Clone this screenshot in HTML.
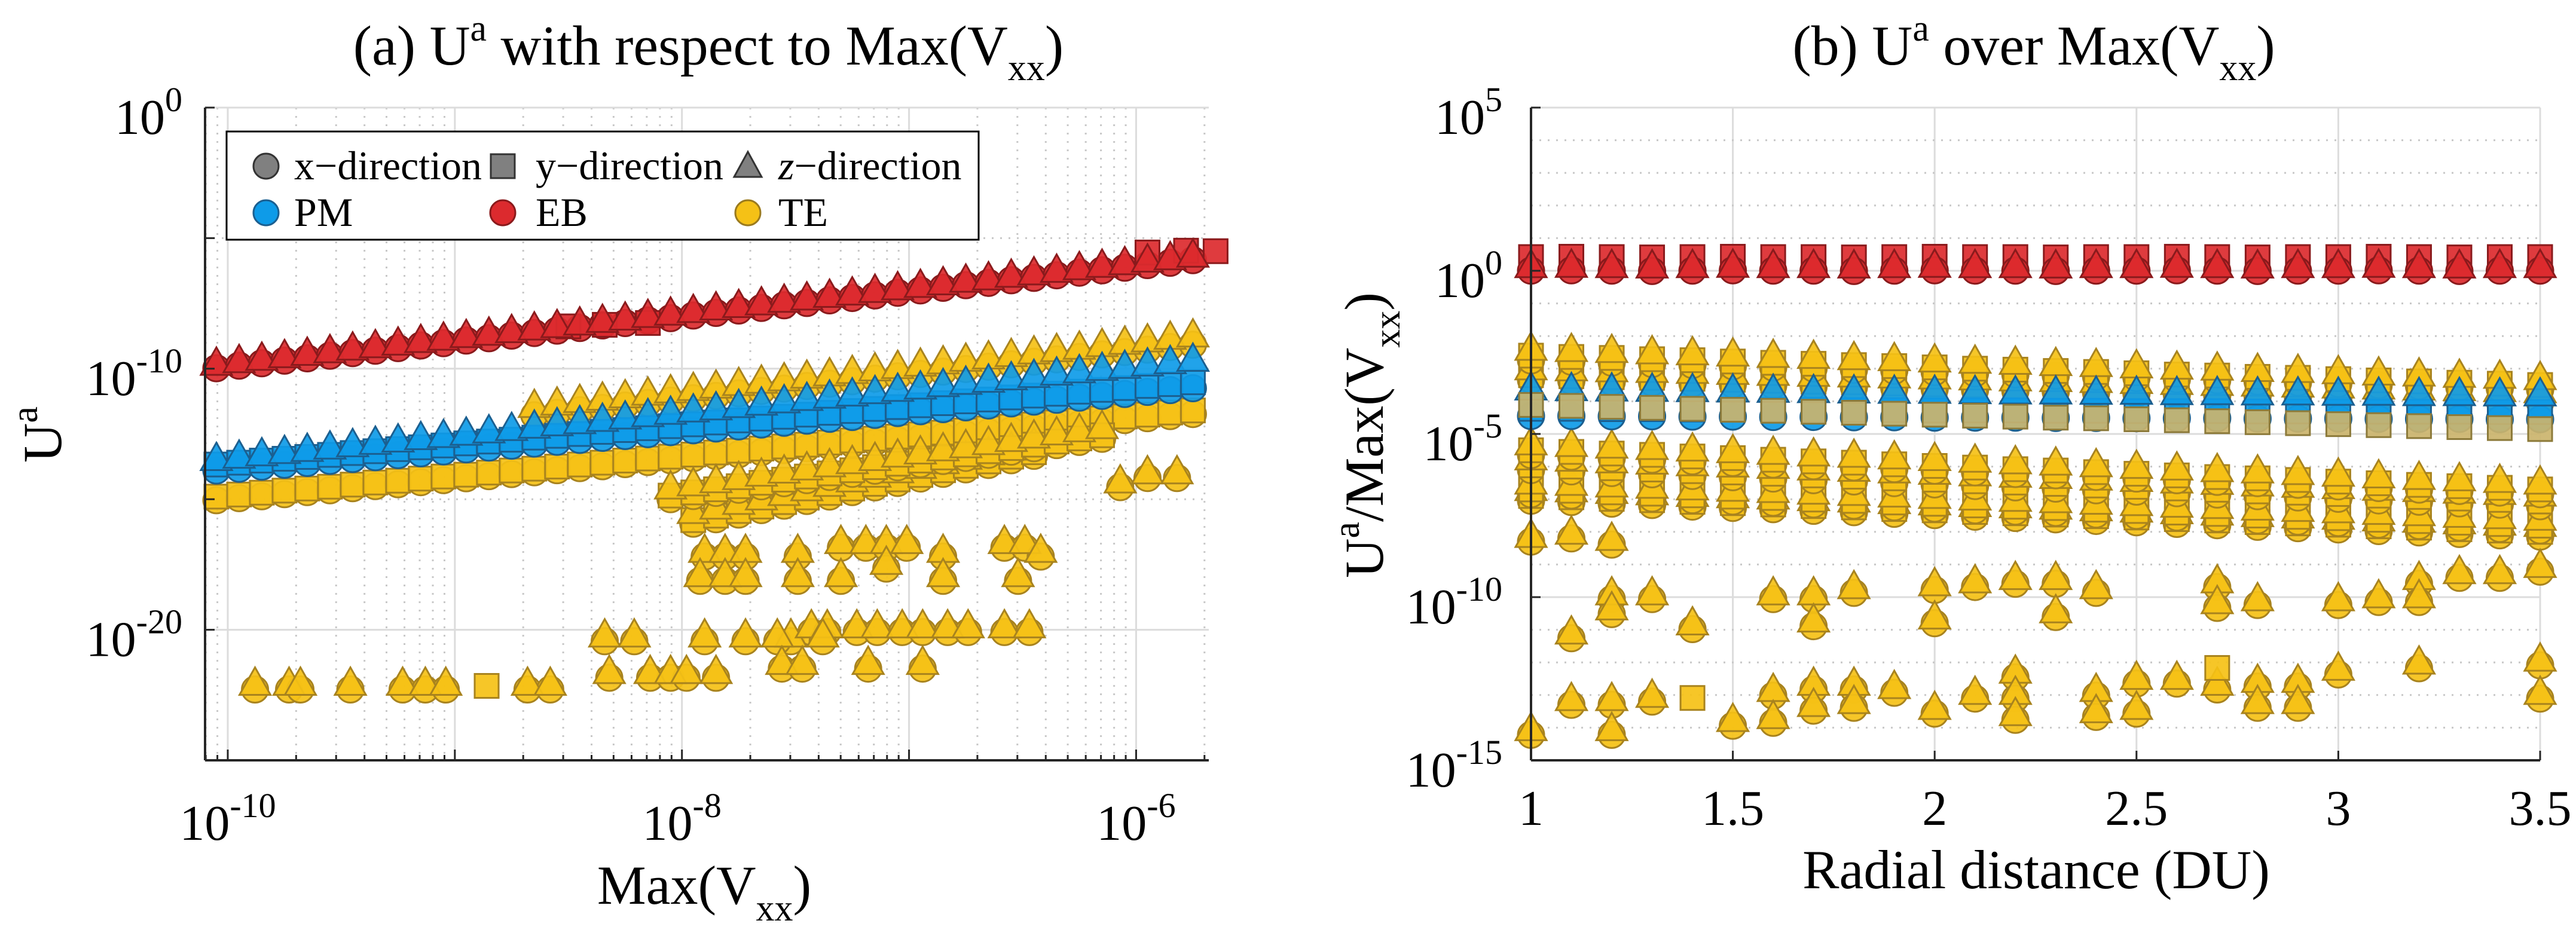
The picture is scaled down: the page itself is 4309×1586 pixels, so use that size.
<!DOCTYPE html>
<html><head><meta charset="utf-8"><style>
html,body{margin:0;padding:0;background:#fff;}
svg{display:block;font-family:"Liberation Serif",serif;}
</style></head><body>
<svg id="fig" xmlns="http://www.w3.org/2000/svg" width="4309" height="1586" viewBox="0 0 4309 1586">
<rect width="4309" height="1586" fill="#fff"/>
<g id="gridA"></g>
<g id="gridB"></g>
<g id="marksA"></g>
<g id="marksB"></g>
<g id="axesA"></g>
<g id="axesB"></g>

<text x="1185" y="108" font-size="94" text-anchor="middle">(a) U<tspan font-size="62" dy="-40">a</tspan><tspan dy="40">  with respect to Max(V</tspan><tspan font-size="62" dy="26">xx</tspan><tspan dy="-26">)</tspan></text>
<text x="3402" y="108" font-size="94" text-anchor="middle">(b) U<tspan font-size="62" dy="-40">a</tspan><tspan dy="40"> over Max(V</tspan><tspan font-size="62" dy="26">xx</tspan><tspan dy="-26">)</tspan></text>
<text x="1178" y="1512" font-size="92" text-anchor="middle">Max(V<tspan font-size="62" dy="28">xx</tspan><tspan dy="-28">)</tspan></text>
<text x="3406" y="1486" font-size="92" text-anchor="middle">Radial distance (DU)</text>
<text transform="translate(102,727) rotate(-90)" font-size="92" text-anchor="middle">U<tspan font-size="62" dy="-40">a</tspan></text>
<text transform="translate(2313,728) rotate(-90)" font-size="92" text-anchor="middle">U<tspan font-size="62" dy="-40">a</tspan><tspan dy="40">/Max(V</tspan><tspan font-size="62" dy="28">xx</tspan><tspan dy="-28">)</tspan></text>

<g>
<rect x="379" y="220" width="1258" height="181" fill="#fff" stroke="#000" stroke-width="3"/>
<circle cx="445" cy="278" r="21" fill="#808080" stroke="#333" stroke-width="3"/>
<text x="492" y="300" font-size="68">x−direction</text>
<rect x="821" y="258" width="40" height="40" fill="#808080" stroke="#333" stroke-width="3"/>
<text x="896" y="300" font-size="68">y−direction</text>
<polygon points="1251,254 1274,296 1228,296" fill="#808080" stroke="#333" stroke-width="3"/>
<text x="1302" y="300" font-size="68"><tspan font-style="italic">z</tspan>−direction</text>
<circle cx="445" cy="356" r="21" fill="#0e9be8" stroke="#1b5f90" stroke-width="3"/>
<text x="492" y="378" font-size="68">PM</text>
<circle cx="841" cy="356" r="21" fill="#dc2a2e" stroke="#8a1a1c" stroke-width="3"/>
<text x="896" y="378" font-size="68">EB</text>
<circle cx="1251" cy="356" r="21" fill="#f5c116" stroke="#9a7a1e" stroke-width="3"/>
<text x="1302" y="378" font-size="68">TE</text>
</g>
</svg>
<script>
// ---------- Left panel data (log10 values) ----------
const lx = [-10.05,-9.95,-9.85,-9.75,-9.65,-9.55,-9.45,-9.35,-9.25,-9.15,-9.05,-8.95,-8.85,-8.75,-8.65,-8.55,-8.45,-8.35,-8.25,-8.15,-8.05,-7.95,-7.85,-7.75,-7.65,-7.55,-7.45,-7.35,-7.25,-7.15,-7.05,-6.95,-6.85,-6.75,-6.65,-6.55,-6.45,-6.35,-6.25,-6.15,-6.05,-5.95,-5.85,-5.75];
const ebT = [-9.80,-9.70,-9.61,-9.51,-9.42,-9.32,-9.22,-9.13,-9.03,-8.93,-8.84,-8.74,-8.65,-8.55,-8.45,-8.36,-8.26,-8.16,-8.07,-7.97,-7.88,-7.78,-7.68,-7.59,-7.49,-7.39,-7.30,-7.20,-7.11,-7.01,-6.91,-6.82,-6.72,-6.62,-6.53,-6.43,-6.34,-6.24,-6.14,-6.05,-5.95,-5.85,-5.76,-5.66];
const ebSx = [-8.50,-8.34,-8.15,-5.95,-5.78,-5.65];
const ebS = [-8.38,-8.32,-8.25,-5.55,-5.48,-5.50];
const pmC = [-13.90,-13.83,-13.75,-13.68,-13.61,-13.53,-13.46,-13.39,-13.31,-13.24,-13.17,-13.09,-13.02,-12.95,-12.87,-12.80,-12.73,-12.65,-12.58,-12.51,-12.43,-12.36,-12.29,-12.21,-12.14,-12.07,-11.99,-11.92,-11.85,-11.77,-11.70,-11.63,-11.55,-11.48,-11.41,-11.33,-11.26,-11.19,-11.11,-11.04,-10.97,-10.89,-10.82,-10.75];
const pmT = [-13.45,-13.36,-13.27,-13.18,-13.10,-13.01,-12.92,-12.83,-12.74,-12.65,-12.57,-12.48,-12.39,-12.30,-12.21,-12.12,-12.04,-11.95,-11.86,-11.77,-11.68,-11.59,-11.51,-11.42,-11.33,-11.24,-11.15,-11.06,-10.98,-10.89,-10.80,-10.71,-10.62,-10.53,-10.45,-10.36,-10.27,-10.18,-10.09,-10.00,-9.92,-9.83,-9.74,-9.65];
const teS = [-14.90,-14.82,-14.75,-14.67,-14.59,-14.52,-14.44,-14.36,-14.29,-14.21,-14.13,-14.06,-13.98,-13.90,-13.83,-13.75,-13.67,-13.60,-13.52,-13.44,-13.37,-13.29,-13.21,-13.14,-13.06,-12.98,-12.91,-12.83,-12.75,-12.68,-12.60,-12.52,-12.45,-12.37,-12.29,-12.22,-12.14,-12.06,-11.99,-11.91,-11.83,-11.76,-11.68,-11.60];
const teTx = [-8.65,-8.55,-8.45,-8.35,-8.25,-8.15,-8.05,-7.95,-7.85,-7.75,-7.65,-7.55,-7.45,-7.35,-7.25,-7.15,-7.05,-6.95,-6.85,-6.75,-6.65,-6.55,-6.45,-6.35,-6.25,-6.15,-6.05,-5.95,-5.85,-5.75];
const teT = [-11.60,-11.51,-11.41,-11.32,-11.23,-11.13,-11.04,-10.95,-10.86,-10.76,-10.67,-10.58,-10.48,-10.39,-10.30,-10.20,-10.11,-10.02,-9.93,-9.83,-9.74,-9.65,-9.55,-9.46,-9.37,-9.27,-9.18,-9.09,-8.99,-8.90];
const bandAx = [-8.05,-7.95,-7.85,-7.75,-7.65,-7.55,-7.45,-7.35,-7.25,-7.15,-7.05,-6.95,-6.85,-6.75,-6.65,-6.55,-6.45,-6.35,-6.25,-6.15];
const bandA = [-14.86,-14.74,-14.62,-14.50,-14.37,-14.25,-14.13,-14.01,-13.89,-13.77,-13.64,-13.52,-13.40,-13.28,-13.16,-13.04,-12.91,-12.79,-12.67,-12.55];
const bandBx = [-7.95,-7.85,-7.75,-7.65,-7.55,-7.45,-7.35,-7.25,-7.15,-7.05,-6.95,-6.85,-6.75,-6.65,-6.55,-6.45];
const bandB = [-15.80,-15.63,-15.45,-15.28,-15.11,-14.93,-14.76,-14.59,-14.41,-14.24,-14.07,-13.89,-13.72,-13.55,-13.37,-13.20];
const teScX = [-6.07,-5.95,-5.82,-7.90,-7.81,-7.72,-7.49,-7.30,-7.19,-7.10,-7.01,-6.85,-6.58,-6.49,-6.42,-7.92,-7.81,-7.72,-7.49,-7.30,-7.10,-6.85,-6.52,-7.23,-7.14,-7.03,-6.94,-6.83,-6.74,-6.58,-6.47,-7.52,-7.43,-7.36,-8.34,-8.21,-7.90,-7.72,-7.58,-7.38,-7.56,-7.47,-7.18,-6.94,-8.32,-8.14,-8.05,-7.98,-7.85,-9.88,-9.73,-9.68,-9.46,-9.23,-9.13,-9.04,-8.68,-8.58];
const teScY = [-14.40,-14.05,-14.05,-17.06,-17.06,-17.06,-17.06,-16.72,-16.72,-16.72,-16.72,-17.06,-16.72,-16.72,-17.06,-17.99,-17.99,-17.99,-17.99,-17.99,-17.52,-17.99,-17.99,-19.95,-19.95,-19.95,-19.95,-19.95,-19.95,-19.95,-19.95,-20.30,-19.95,-19.95,-20.30,-20.30,-20.30,-20.30,-20.30,-20.30,-21.35,-21.35,-21.35,-21.35,-21.70,-21.70,-21.70,-21.70,-21.70,-22.15,-22.15,-22.15,-22.15,-22.15,-22.15,-22.15,-22.15,-22.15];
const teSqX = [-8.86];
const teSqY = [-22.15];
const leftXTicks = [-10,-8,-6];
const leftYTicks = [0,-10,-20];

// ---------- Right panel data ----------
const rx = [1,1.1,1.2,1.3,1.4,1.5,1.6,1.7,1.8,1.9,2,2.1,2.2,2.3,2.4,2.5,2.6,2.7,2.8,2.9,3,3.1,3.2,3.3,3.4,3.5];
const redT = [0.15,0.16,0.15,0.14,0.15,0.16,0.15,0.15,0.14,0.15,0.16,0.15,0.15,0.14,0.15,0.15,0.16,0.15,0.14,0.15,0.15,0.16,0.15,0.14,0.15,0.15];
const redS = [0.42,0.43,0.42,0.41,0.42,0.43,0.42,0.42,0.41,0.42,0.43,0.42,0.42,0.41,0.42,0.42,0.43,0.42,0.41,0.42,0.42,0.43,0.42,0.41,0.42,0.42];
const teTop1 = [-2.60,-2.64,-2.67,-2.71,-2.74,-2.78,-2.82,-2.85,-2.89,-2.92,-2.96,-3.00,-3.03,-3.07,-3.10,-3.14,-3.18,-3.21,-3.25,-3.28,-3.32,-3.36,-3.39,-3.43,-3.46,-3.50];
const teTop2 = [-3.20,-3.23,-3.26,-3.28,-3.31,-3.34,-3.37,-3.40,-3.42,-3.45,-3.48,-3.51,-3.54,-3.56,-3.59,-3.62,-3.65,-3.68,-3.70,-3.73,-3.76,-3.79,-3.82,-3.84,-3.87,-3.90];
const pmTr = [-3.60,-3.62,-3.63,-3.64,-3.65,-3.66,-3.67,-3.68,-3.69,-3.70,-3.70,-3.71,-3.72,-3.72,-3.73,-3.73,-3.74,-3.74,-3.75,-3.75,-3.76,-3.76,-3.77,-3.77,-3.78,-3.78];
const pmCr = [-4.45,-4.45,-4.46,-4.46,-4.47,-4.47,-4.48,-4.48,-4.49,-4.49,-4.50,-4.50,-4.50,-4.51,-4.51,-4.52,-4.52,-4.52,-4.53,-4.53,-4.53,-4.54,-4.54,-4.54,-4.55,-4.55];
const teSqR = [-4.11,-4.14,-4.17,-4.20,-4.23,-4.26,-4.29,-4.32,-4.35,-4.38,-4.41,-4.44,-4.47,-4.50,-4.52,-4.55,-4.58,-4.61,-4.64,-4.67,-4.70,-4.73,-4.76,-4.79,-4.82,-4.85];
const te2a = [-5.50,-5.55,-5.60,-5.64,-5.69,-5.74,-5.79,-5.84,-5.88,-5.93,-5.98,-6.03,-6.08,-6.12,-6.17,-6.22,-6.27,-6.32,-6.36,-6.41,-6.46,-6.51,-6.56,-6.60,-6.65,-6.70];
const te2b = [-5.96,-6.00,-6.05,-6.09,-6.14,-6.18,-6.22,-6.27,-6.31,-6.36,-6.40,-6.45,-6.49,-6.53,-6.58,-6.62,-6.67,-6.71,-6.76,-6.80,-6.84,-6.89,-6.93,-6.98,-7.02,-7.07];
const te2c = [-6.70,-6.74,-6.79,-6.83,-6.88,-6.92,-6.96,-7.01,-7.05,-7.10,-7.14,-7.19,-7.23,-7.27,-7.32,-7.36,-7.41,-7.45,-7.50,-7.54,-7.58,-7.63,-7.67,-7.72,-7.76,-7.81];
const te2d = [-6.90,-6.94,-6.99,-7.03,-7.08,-7.12,-7.16,-7.21,-7.25,-7.30,-7.34,-7.39,-7.43,-7.47,-7.52,-7.56,-7.61,-7.65,-7.70,-7.74,-7.78,-7.83,-7.87,-7.92,-7.96,-8.00];
const rScX = [1.0,1.1,1.2,1.2,1.2,1.3,1.4,1.1,1.6,1.7,1.7,1.8,2.0,2.0,2.1,2.2,2.3,2.3,2.4,2.7,2.7,2.8,3.0,3.1,3.2,3.2,3.3,3.4,3.5,
  1.0,1.1,1.2,1.2,1.3,1.5,1.6,1.6,1.7,1.7,1.8,1.8,1.9,2.0,2.1,2.2,2.2,2.2,2.4,2.4,2.5,2.5,2.6,2.7,2.8,2.8,2.9,2.9,3.0,3.2,3.5,3.5];
const rScY = [-8.19,-8.09,-8.28,-9.95,-10.41,-9.95,-10.87,-11.15,-9.95,-9.95,-10.78,-9.76,-9.67,-10.69,-9.58,-9.48,-9.48,-10.50,-9.76,-9.58,-10.22,-10.13,-10.13,-10.04,-9.48,-10.04,-9.30,-9.30,-9.11,
  -14.11,-13.19,-13.19,-14.11,-13.09,-13.83,-12.91,-13.74,-12.72,-13.37,-12.72,-13.28,-12.82,-13.46,-13.00,-12.35,-13.00,-13.65,-12.91,-13.56,-12.54,-13.46,-12.54,-12.72,-12.63,-13.28,-12.63,-13.28,-12.26,-12.07,-11.98,-13.00];
const rSqX = [1.4,2.7];
const rSqY = [-13.09,-12.17];
const rightXTicks = [1,1.5,2,2.5,3,3.5];
const rightXLabels = ["1","1.5","2","2.5","3","3.5"];
const rightYTicks = [5,0,-5,-10,-15];

// ---------- Axis functions ----------
const A = {l:343, r:2022, t:180, b:1272, x0:-10.1, x1:-5.68, y0:-25, y1:0};
const B = {l:2561, r:4249, t:180, b:1272, x0:1, x1:3.5, y0:-15, y1:5};
const axA = v => A.l + (v - A.x0) / (A.x1 - A.x0) * (A.r - A.l);
const ayA = v => A.b - (v - A.y0) / (A.y1 - A.y0) * (A.b - A.t);
const axB = v => B.l + (v - B.x0) / (B.x1 - B.x0) * (B.r - B.l);
const ayB = v => B.b - (v - B.y0) / (B.y1 - B.y0) * (B.b - B.t);

const NS = "http://www.w3.org/2000/svg";
const COL = {
  te:["#f5c116","#a8831e"], pm:["#0e9be8","#1b5f90"],
  eb:["#dc2a2e","#8a1a1c"], tan:["#cbb46c","#8c7a3a"]
};
function mk(tag, attrs, parent){
  const e = document.createElementNS(NS, tag);
  for (const k in attrs) e.setAttribute(k, attrs[k]);
  parent.appendChild(e);
  return e;
}
function marker(shape, cx, cy, c, parent, name){
  let e;
  if (shape === "c") e = mk("circle", {cx:cx, cy:cy, r:22}, parent);
  else if (shape === "s") e = mk("rect", {x:cx-20, y:cy-20, width:40, height:40}, parent);
  else e = mk("polygon", {points:`${cx},${cy-27} ${cx+26},${cy+19} ${cx-26},${cy+19}`}, parent);
  e.setAttribute("fill", c[0]);
  e.setAttribute("stroke", c[1]);
  e.setAttribute("stroke-width", "3");
  e.setAttribute("fill-opacity", "0.92");
  
  
  return e;
}
function series(xs, ys, shape, c, fx, fy, parent, name, dy){
  for (let i = 0; i < xs.length && i < ys.length; i++) marker(shape, fx(xs[i]), fy(ys[i]) + (dy||0), c, parent, name);
}
function line(x1,y1,x2,y2,stroke,w,dash,parent,name){
  const e = mk("line",{x1:x1,y1:y1,x2:x2,y2:y2,stroke:stroke,"stroke-width":w},parent);
  if (dash) e.setAttribute("stroke-dasharray", dash);
  
  
}
function tickLabel(x, y, exp, anchor, parent, name){
  const t = mk("text",{x:x,y:y,"font-size":84,"text-anchor":anchor},parent);
  
  
  t.appendChild(document.createTextNode("10"));
  const s = mk("tspan",{"font-size":58,dy:-38},t);
  s.textContent = String(exp);
}

// ---------- Left grid ----------
const gA = document.getElementById("gridA");
for (let d = -11; d <= -5; d++){
  for (let m = 1; m <= 9; m++){
    const v = d + Math.log10(m);
    if (v < A.x0 || v > A.x1) continue;
    const X = axA(v);
    if (m === 1) line(X,A.t,X,A.b,"#dcdcdc",3,null,gA,"x-major-gridline");
    else line(X,A.t,X,A.b,"#c8c8c8",3,"3 11",gA,"x-minor-gridline");
  }
}
for (let v = 0; v >= -25; v -= 5){
  const Y = ayA(v);
  if (v % 10 === 0) line(A.l,Y,A.r,Y,"#dcdcdc",3,null,gA,"y-major-gridline");
  else line(A.l,Y,A.r,Y,"#c8c8c8",3,"3 11",gA,"y-minor-gridline");
}
// ---------- Right grid ----------
const gB = document.getElementById("gridB");
for (const v of rightXTicks){ const X = axB(v); line(X,B.t,X,B.b,"#dcdcdc",3,null,gB,"x-gridline"); }
for (let v = 5; v >= -15; v--){
  const Y = ayB(v);
  if (v % 5 === 0) line(B.l,Y,B.r,Y,"#dcdcdc",3,null,gB,"y-major-gridline");
  else line(B.l,Y,B.r,Y,"#c8c8c8",3,"3 11",gB,"y-minor-gridline");
}

// ---------- Left marks ----------
const mA = document.getElementById("marksA");
series(lx, teS, "c", COL.te, axA, ayA, mA, "te-x-point", 6);
series(lx, teS, "s", COL.te, axA, ayA, mA, "te-y-point");
series(bandBx, bandB, "c", COL.te, axA, ayA, mA, "te-x-point", 6);
series(bandBx, bandB, "s", COL.te, axA, ayA, mA, "te-y-point");
series(bandBx, bandB, "t", COL.te, axA, ayA, mA, "te-z-point", -14);
series(bandAx, bandA, "c", COL.te, axA, ayA, mA, "te-x-point", 6);
series(bandAx, bandA, "s", COL.te, axA, ayA, mA, "te-y-point");
series(bandAx, bandA, "t", COL.te, axA, ayA, mA, "te-z-point", -14);
series(teScX, teScY, "c", COL.te, axA, ayA, mA, "te-x-point", 6);
series(teScX, teScY, "t", COL.te, axA, ayA, mA, "te-z-point", -4);
series(teSqX, teSqY, "s", COL.te, axA, ayA, mA, "te-y-point");
series(teTx, teT, "c", COL.te, axA, ayA, mA, "te-x-point", 8);
series(teTx, teT, "t", COL.te, axA, ayA, mA, "te-z-point", -8);
series(lx, pmC, "c", COL.pm, axA, ayA, mA, "pm-x-point");
series(lx, pmC, "s", COL.pm, axA, ayA, mA, "pm-y-point", -10);
series(lx, pmT, "t", COL.pm, axA, ayA, mA, "pm-z-point");
series(lx, ebT, "c", COL.eb, axA, ayA, mA, "eb-x-point", 8);
series(ebSx, ebS, "s", COL.eb, axA, ayA, mA, "eb-y-point");
series(lx, ebT, "t", COL.eb, axA, ayA, mA, "eb-z-point");

// ---------- Right marks ----------
const mB = document.getElementById("marksB");
[te2d, te2c, te2b, te2a].forEach(arr => {
  series(rx, arr, "c", COL.te, axB, ayB, mB, "te-x-point", 8);
  series(rx, arr, "s", COL.te, axB, ayB, mB, "te-y-point");
  series(rx, arr, "t", COL.te, axB, ayB, mB, "te-z-point", -12);
});
series(rScX, rScY, "c", COL.te, axB, ayB, mB, "te-x-point", 6);
series(rScX, rScY, "t", COL.te, axB, ayB, mB, "te-z-point", -4);
series(rSqX, rSqY, "s", COL.te, axB, ayB, mB, "te-y-point");
[teTop2, teTop1].forEach(arr => {
  series(rx, arr, "c", COL.te, axB, ayB, mB, "te-x-point", 8);
  series(rx, arr, "s", COL.te, axB, ayB, mB, "te-y-point");
  series(rx, arr, "t", COL.te, axB, ayB, mB, "te-z-point", -12);
});
series(rx, pmCr, "c", COL.pm, axB, ayB, mB, "pm-x-point");
series(rx, pmCr, "s", COL.pm, axB, ayB, mB, "pm-y-point", -12);
series(rx, pmTr, "t", COL.pm, axB, ayB, mB, "pm-z-point");
series(rx, teSqR, "s", COL.tan, axB, ayB, mB, "te-y-point");
series(rx, redS, "s", COL.eb, axB, ayB, mB, "eb-y-point");
series(rx, redT, "c", COL.eb, axB, ayB, mB, "eb-x-point", 8);
series(rx, redT, "t", COL.eb, axB, ayB, mB, "eb-z-point");

// ---------- Axes ----------
const xA = document.getElementById("axesA");
line(A.l, A.t, A.l, A.b, "#262626", 4, null, xA, "left-y-axis-line");
line(A.l, A.b, A.r, A.b, "#262626", 4, null, xA, "left-x-axis-line");
for (let d = -11; d <= -5; d++){
  for (let m = 1; m <= 9; m++){
    const v = d + Math.log10(m);
    if (v < A.x0 || v > A.x1) continue;
    const X = axA(v);
    line(X, A.b, X, A.b - (m === 1 ? 18 : 9), "#262626", 3, null, xA, "x-tick");
  }
}
for (let v = 0; v >= -25; v -= 5){ const Y = ayA(v); line(A.l, Y, A.l + 16, Y, "#262626", 3, null, xA, "y-tick"); }
leftXTicks.forEach(v => tickLabel(axA(v), 1405, v, "middle", xA, "x-tick-label"));
leftYTicks.forEach(v => tickLabel(A.l - 38, ayA(v) + 44, v, "end", xA, "y-tick-label"));

const xB = document.getElementById("axesB");
line(B.l, B.t, B.l, B.b, "#262626", 4, null, xB, "right-y-axis-line");
line(B.l, B.b, B.r, B.b, "#262626", 4, null, xB, "right-x-axis-line");
rightXTicks.forEach((v, i) => {
  const X = axB(v);
  line(X, B.b, X, B.b - 16, "#262626", 3, null, xB, "x-tick");
  const t = mk("text", {x:X, y:1380, "font-size":84, "text-anchor":"middle"}, xB);
  
  
  t.textContent = rightXLabels[i];
});
rightYTicks.forEach(v => {
  const Y = ayB(v);
  line(B.l, Y, B.l + 16, Y, "#262626", 3, null, xB, "y-tick");
  tickLabel(B.l - 48, Y + 44, v, "end", xB, "y-tick-label");
});
</script>
</body></html>
